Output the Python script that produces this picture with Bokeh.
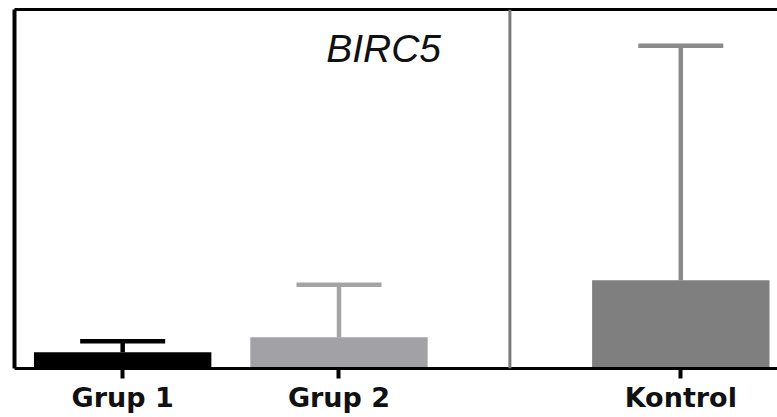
from bokeh.plotting import figure
from bokeh.models import (Range1d, FixedTicker, LinearAxis, Whisker, TeeHead,
                          ColumnDataSource, Span, Label)
from bokeh.embed import file_html
from bokeh.resources import INLINE

# ---- data ----
categories = ["Grup 1", "Grup 2", "Kontrol"]
means = [0.45, 0.87, 2.46]
errors = [0.31, 1.46, 6.53]
bar_colors = ["#000000", "#a2a1a5", "#7f7f7f"]
err_colors = ["#000000", "#a4a4a4", "#8a8a8a"]
title_text = "BIRC5"

# ---- layout (axis break after the second group) ----
gap = 0.58
break_after = 1
xs = [i + 0.5 + (gap if i > break_after else 0.0) for i in range(len(categories))]
break_x = break_after + 1 + gap / 2

p = figure(width=777, height=417, output_backend="svg", toolbar_location=None,
           x_range=Range1d(0, 3.527), y_range=Range1d(0, 10),
           min_border_left=14, min_border_right=0, min_border_top=9,
           min_border_bottom=49)
p.outline_line_color = None
p.background_fill_color = "white"
p.border_fill_color = "white"
p.xgrid.visible = False
p.ygrid.visible = False

src = ColumnDataSource(dict(x=xs, top=means, color=bar_colors))
p.vbar(x="x", top="top", bottom=0, width=0.82, source=src,
       fill_color="color", line_color=None)

for x, m, e, c in zip(xs, means, errors, err_colors):
    s = ColumnDataSource(dict(base=[x], lower=[m], upper=[m + e]))
    w = Whisker(source=s, base="base", lower="lower", upper="upper",
                dimension="height", line_color=c, line_width=4.5,
                upper_head=TeeHead(size=85, line_width=4.5, line_color=c),
                lower_head=None)
    p.add_layout(w)

p.add_layout(Span(location=break_x, dimension="height",
                  line_color="#7b7b7b", line_width=3))

p.add_layout(Label(x=1.706, y=8.90, text=title_text, text_align="center",
                   text_baseline="middle", text_font="Liberation Sans",
                   text_font_style="italic", text_font_size="39px",
                   text_color="#111111"))

# x axis
xa = p.xaxis[0]
xa.ticker = FixedTicker(ticks=xs)
xa.major_label_overrides = {x: c for x, c in zip(xs, categories)}
xa.axis_line_width = 3
xa.axis_line_color = "#000000"
xa.major_tick_line_width = 4
xa.major_tick_line_color = "#000000"
xa.major_tick_out = 10
xa.major_tick_in = 0
xa.minor_tick_line_color = None
xa.major_label_standoff = 3
xa.major_label_text_font = "DejaVu Sans"
xa.major_label_text_font_style = "bold"
xa.major_label_text_font_size = "27px"
xa.major_label_text_color = "#111111"

# y axis: line only
ya = p.yaxis[0]
ya.ticker = FixedTicker(ticks=[])
ya.axis_line_width = 4
ya.axis_line_color = "#000000"
ya.major_tick_out = 0
ya.major_tick_in = 0
ya.minor_tick_line_color = None
ya.major_label_standoff = 0

# top line
top = LinearAxis(ticker=FixedTicker(ticks=[]), axis_line_width=3,
                 axis_line_color="#000000", major_tick_out=0, major_tick_in=0,
                 minor_tick_line_color=None, major_label_standoff=0)
p.add_layout(top, "above")

open("out.html", "w").write(file_html(p, INLINE))
